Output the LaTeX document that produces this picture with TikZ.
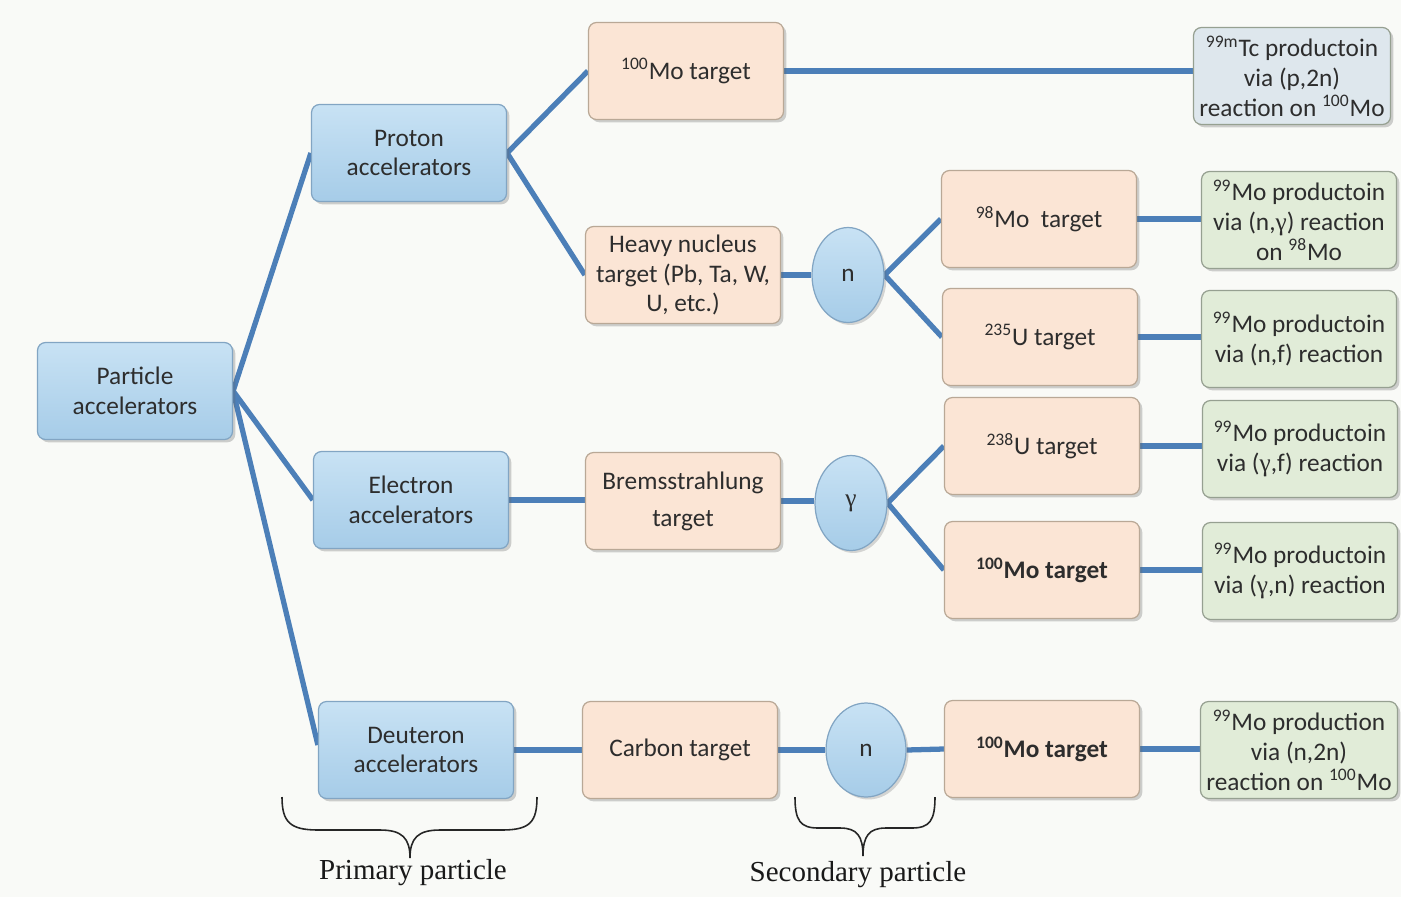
\documentclass[tikz,border=0pt]{standalone}
\usepackage{fontspec}
\setmainfont{Carlito}
\newfontfamily\serifrm{Liberation Serif}
\usetikzlibrary{shapes.geometric,shadows,backgrounds}
\definecolor{bgc}{RGB}{249,250,247}
\definecolor{linec}{RGB}{76,127,184}
\definecolor{bluetop}{RGB}{200,226,244}
\definecolor{bluebot}{RGB}{166,204,232}
\definecolor{blueedge}{RGB}{130,165,195}
\definecolor{peach}{RGB}{251,229,213}
\definecolor{peachedge}{RGB}{185,168,150}
\definecolor{greenf}{RGB}{225,236,216}
\definecolor{greenedge}{RGB}{150,160,145}
\definecolor{greyf}{RGB}{222,231,237}
\definecolor{txt}{RGB}{45,45,45}
\tikzset{
  base/.style={rectangle, rounded corners=0.16cm, align=center, text=txt,
    font=\fontsize{14.4}{17}\selectfont, line width=0.7pt,
    drop shadow={shadow xshift=1.6pt, shadow yshift=-1.6pt, opacity=0.3, fill=black!60}},
  bluebox/.style={base, draw=blueedge, top color=bluetop, bottom color=bluebot,
    minimum width=3.9cm, minimum height=1.94cm},
  tbox/.style={base, draw=peachedge, fill=peach, minimum width=3.9cm, minimum height=1.94cm},
  gbox/.style={base, draw=greenedge, fill=greenf, minimum width=3.9cm, minimum height=1.94cm},
  cbox/.style={base, draw=greenedge, fill=greyf, minimum width=3.88cm, minimum height=1.94cm},
  part/.style={ellipse, draw=blueedge, line width=0.7pt, top color=bluetop, bottom color=bluebot,
    text=txt, font=\fontsize{14.4}{17}\selectfont, inner sep=0pt,
    drop shadow={shadow xshift=1.4pt, shadow yshift=-1.4pt, opacity=0.25, fill=black!60}},
  conn/.style={draw=linec, line width=3pt},
  brace/.style={draw=black!85, line width=0.9pt},
  lab/.style={font=\serifrm\fontsize{16.5}{19}\selectfont, text=black!90}
}
\begin{document}
\begin{tikzpicture}[x=0.02cm, y=-0.02cm]
\useasboundingbox (0,0) rectangle (1401,897);
% primary
\node[bluebox] (pa) at (135,391) {Particle\\accelerators};
\node[bluebox] (pr) at (409,153) {Proton\\accelerators};
\node[bluebox] (el) at (411,500) {Electron\\accelerators};
\node[bluebox] (de) at (416,750) {Deuteron\\accelerators};
% first targets
\node[tbox] (mo1) at (686,71) {\textsuperscript{100}Mo target};
\node[tbox] (hv) at (683,275) {Heavy nucleus\\target (Pb, Ta, W,\\U, etc.)};
\node[tbox] (br) at (683,501) {Bremsstrahlung\\[4pt]target};
\node[tbox] (ca) at (680,750) {Carbon target};
% secondary particles
\node[part, minimum width=1.44cm, minimum height=1.9cm] (n1) at (848,275) {n};
\node[part, minimum width=1.44cm, minimum height=1.9cm] (ga) at (851,503) {\serifrm γ};
\node[part, minimum width=1.6cm, minimum height=1.88cm] (n2) at (866,750) {n};
% second targets
\node[tbox] (mo98) at (1039,219) {\textsuperscript{98}Mo\ \ target};
\node[tbox] (u235) at (1040,337) {\textsuperscript{235}U target};
\node[tbox] (u238) at (1042,446) {\textsuperscript{238}U target};
\node[tbox] (mo2) at (1042,570) {\textbf{\textsuperscript{100}Mo target}};
\node[tbox] (mo3) at (1042,749) {\textbf{\textsuperscript{100}Mo target}};
% results
\node[cbox] (r1) at (1292,76) {\textsuperscript{99m}Tc productoin\\via (p,2n)\\reaction on \textsuperscript{100}Mo};
\node[gbox] (r2) at (1299,220) {\textsuperscript{99}Mo productoin\\via (n,{\serifrm γ}) reaction\\on \textsuperscript{98}Mo};
\node[gbox] (r3) at (1299,339) {\textsuperscript{99}Mo productoin\\via (n,f) reaction};
\node[gbox] (r4) at (1300,449) {\textsuperscript{99}Mo productoin\\via ({\serifrm γ},f) reaction};
\node[gbox] (r5) at (1300,571) {\textsuperscript{99}Mo productoin\\via ({\serifrm γ},n) reaction};
\node[gbox] (r6) at (1299,750) {\textsuperscript{99}Mo production\\via (n,2n)\\reaction on \textsuperscript{100}Mo};
% connectors
\begin{scope}[on background layer]
\fill[bgc] (0,0) rectangle (1401,897);
\draw[conn] (pa.east) -- (pr.west);
\draw[conn] (pa.east) -- (el.west);
\draw[conn] (pa.east) -- ([yshift=0.1cm]de.west);
\draw[conn] (pr.east) -- (mo1.west);
\draw[conn] (pr.east) -- (hv.west);
\draw[conn] (mo1.east) -- (mo1.east -| r1.west);
\draw[conn] (hv.east) -- (n1.west);
\draw[conn] (n1.east) -- (mo98.west);
\draw[conn] (n1.east) -- (u235.west);
\draw[conn] (mo98.east) -- (mo98.east -| r2.west);
\draw[conn] (u235.east) -- (u235.east -| r3.west);
\draw[conn] (el.east) -- (el.east -| br.west);
\draw[conn] (br.east) -- (br.east -| ga.west);
\draw[conn] (ga.east) -- (u238.west);
\draw[conn] (ga.east) -- (mo2.west);
\draw[conn] (u238.east) -- (u238.east -| r4.west);
\draw[conn] (mo2.east) -- (mo2.east -| r5.west);
\draw[conn] (de.east) -- (de.east -| ca.west);
\draw[conn] (ca.east) -- (ca.east -| n2.west);
\draw[conn] (n2.east) -- (mo3.west);
\draw[conn] (mo3.east) -- (mo3.east -| r6.west);
\end{scope}
% braces
\draw[brace] (282,797) .. controls (282,822) and (290,830) .. (318,830) -- (380,830)
  .. controls (402,830) and (410,838) .. (410,858)
  .. controls (410,838) and (418,830) .. (440,830) -- (502,830)
  .. controls (530,830) and (537,822) .. (537,797);
\draw[brace] (795,797) .. controls (795,820) and (800,828) .. (818,828) -- (840,828)
  .. controls (857,828) and (863,836) .. (863,856)
  .. controls (863,836) and (869,828) .. (886,828) -- (912,828)
  .. controls (930,828) and (935,820) .. (935,797);
\node[lab] (l1) at (413,873) {Primary particle};
\node[lab] (l2) at (858,875) {Secondary particle};
\end{tikzpicture}
\end{document}
